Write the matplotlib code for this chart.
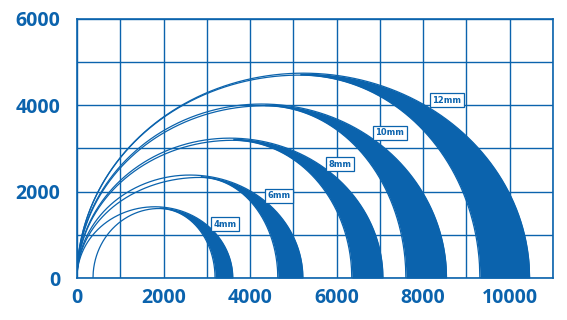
import matplotlib
matplotlib.use('Agg')
import matplotlib.pyplot as plt
import numpy

#####################################
# data
labels        = ['4mm', '6mm', '8mm', '10mm', '12mm']
outer_end     = [3600, 5220, 7070, 8540, 10460]
outer_height  = [1650, 2385, 3240, 4030, 4745]
inner_start   = [370, 0, 0, 0, 0]
inner_peak_x  = [1900, 2850, 3600, 4340, 5150]
inner_height  = [1610, 2330, 3190, 3990, 4700]
inner_end     = [3190, 4640, 6350, 7600, 9310]
label_x       = [3420, 4670, 6070, 7230, 8540]
label_y       = [1250, 1900, 2640, 3360, 4120]
x_ticks       = [0, 2000, 4000, 6000, 8000, 10000]
y_ticks       = [0, 2000, 4000, 6000]
#####################################

blue = '#0b63ad'

def quarter(x, xb, xp, h):
    # quarter ellipse from (xb, 0) up to its top at (xp, h)
    u = 1 - ((x - xp) / (xp - xb)) ** 2
    return h * numpy.sqrt(numpy.clip(u, 0, None))

def outer_curve(x, i):
    c = outer_end[i] / 2
    return quarter(x, 0, c, outer_height[i])

def inner_curve(x, i):
    left = quarter(x, inner_start[i], inner_peak_x[i], inner_height[i])
    right = quarter(x, inner_end[i], inner_peak_x[i], inner_height[i])
    y = numpy.where(x <= inner_peak_x[i], left, right)
    return numpy.where((x >= inner_start[i]) & (x <= inner_end[i]), y, 0)

fig = plt.figure(figsize=(5.67, 3.2), dpi=100)
ax = fig.add_axes([0.1358, 0.13125, 0.8395, 0.8094])
ax.set_xlim(0, 11000)
ax.set_ylim(0, 6000)

# grid every 1000
ax.set_xticks(x_ticks)
ax.set_yticks(y_ticks)
ax.set_xticks(numpy.arange(0, 11001, 1000), minor=True)
ax.set_yticks(numpy.arange(0, 6001, 1000), minor=True)
ax.grid(True, which='both', color=blue, linewidth=1.0)
ax.set_axisbelow(True)
ax.tick_params(which='both', length=0, colors=blue)
ax.tick_params(axis='x', pad=7)
ax.tick_params(axis='y', pad=12)
for lab in ax.get_xticklabels() + ax.get_yticklabels():
    lab.set_fontsize(14)
    lab.set_fontweight('bold')
    lab.set_color(blue)
    lab.set_fontfamily('Open Sans')
for s in ax.spines.values():
    s.set_color(blue)
    s.set_linewidth(1.2)

for i in range(len(labels)):
    xo = numpy.linspace(0, outer_end[i], 1000)
    xi = numpy.linspace(inner_start[i], inner_end[i], 1000)
    ax.plot(xo, outer_curve(xo, i), color=blue, lw=0.9)
    ax.plot(xi, inner_curve(xi, i), color=blue, lw=0.9)

    xf = numpy.linspace(inner_peak_x[i], outer_end[i], 1000)
    top = outer_curve(xf, i)
    bot = inner_curve(xf, i)
    ax.fill_between(xf, bot, top, where=top > bot, interpolate=True, color=blue, lw=0, zorder=3)

    ax.text(label_x[i], label_y[i], labels[i], color=blue, fontsize=6, fontweight='bold',
            ha='center', va='center', zorder=5,
            bbox=dict(boxstyle='square,pad=0.3', fc='white', ec=blue, lw=0.9))

fig.savefig('out.png', dpi=100)
